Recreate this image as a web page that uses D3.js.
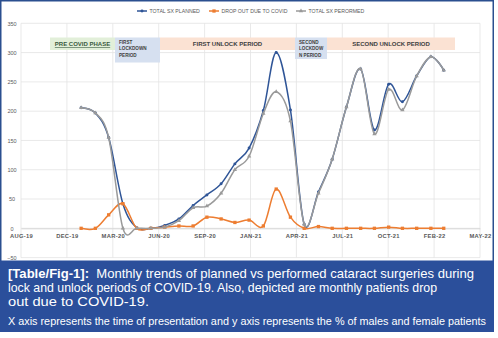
<!DOCTYPE html>
<html>
<head>
<meta charset="utf-8">
<title>Monthly trends of planned vs performed cataract surgeries</title>
<script src="https://d3js.org/d3.v7.min.js"></script>
<style>
  body { margin: 0; background: #fff; }
  svg text { font-family: "Liberation Sans", Arial, sans-serif; }
</style>
</head>
<body>
<div id="chart"></div>
<script>
// ---------------- data ----------------
const months = ["2020-01","2020-02","2020-03","2020-04","2020-05","2020-06","2020-07","2020-08","2020-09",
                "2020-10","2020-11","2020-12","2021-01","2021-02","2021-03","2021-04","2021-05","2021-06",
                "2021-07","2021-08","2021-09","2021-10","2021-11","2021-12","2022-01","2022-02","2022-03"];
const planned   = [206,197,155,42,1,0,5,16,39,57,76,110,137,201,300,202,7,62,118,207,272,168,246,216,260,293,270];
const dropout   = [0,0,23,42,0,0,2,4,4,19,16,10,14,4,67,19,0,3,0,0,0,0,2,0,0,0,0];
const performed = [206,197,155,0,0,0,2,13,35,38,60,100,123,196,233,183,7,60,118,207,272,161,237,202,260,293,270];

const seriesNames = ["TOTAL SX PLANNED", "DROP OUT DUE TO COVID", "TOTAL SX PERORMED"];
const yTicks = [-50, 0, 50, 100, 150, 200, 250, 300, 350];
// x axis: Excel date axis, 100 day major unit
const axisStart = "2019-08-23", axisEnd = "2022-05-19", tickStepDays = 100;

const phases = [
  {lines: ["PRE COVID PHASE"], x: 50, w: 65, h: 12.5, fill: "#e2efd9", big: true, underline: true},
  {lines: ["FIRST", "LOCKDOWN", "PERIOD"], x: 115, w: 45, h: 25, fill: "#d6e0f0"},
  {lines: ["FIRST UNLOCK PERIOD"], x: 160, w: 135, h: 12.5, fill: "#fbe2d3", big: true},
  {lines: ["SECOND", "LOCKDOW", "N PERIOD"], x: 295, w: 32, h: 21.5, fill: "#d6e0f0"},
  {lines: ["SECOND UNLOCK PERIOD"], x: 327, w: 128, h: 12.5, fill: "#fbe2d3", big: true}
];

const captionLines = [
  {parts: [{t: "[Table/Fig-1]:", b: true}, {t: "  Monthly trends of planned vs performed cataract surgeries during"}], w: 466},
  {parts: [{t: "lock and unlock periods of COVID-19. Also, depicted are monthly patients drop"}], w: 429},
  {parts: [{t: "out due to COVID-19."}], w: 141}
];
const captionNote = "X axis represents the time of presentation and y axis represents the % of males and female patients";

// ---------------- layout ----------------
const W = 498, H = 338;
const margin = {left: 21, right: 18, top: 23.3, bottom: 80.4};
const colors = ["#2f5597", "#ed7d31", "#9a9a9a"];

const svg = d3.select("#chart").append("svg")
    .attr("width", W).attr("height", H);

const parse = d3.utcParse("%Y-%m-%d");
const dates = months.map(m => parse(m + "-01"));
const start = parse(axisStart), end = parse(axisEnd);

const x = d3.scaleUtc().domain([start, end]).range([margin.left, W - margin.right]);
const y = d3.scaleLinear().domain([-50, 350]).range([H - margin.bottom, margin.top]);

// outer frame
svg.append("rect")
    .attr("x", 0.75).attr("y", 0.75).attr("width", 492.5).attr("height", 262)
    .attr("fill", "#fff").attr("stroke", "#2b4f8f").attr("stroke-width", 1.5);

// gridlines
const xTickVals = d3.range(0, 11).map(i => d3.utcDay.offset(start, i * tickStepDays));
svg.append("g")
  .selectAll("line.h").data(yTicks).join("line")
    .attr("x1", x.range()[0]).attr("x2", x.range()[1])
    .attr("y1", d => y(d)).attr("y2", d => y(d))
    .attr("stroke", "#e3e3e3").attr("stroke-width", 0.8);
svg.append("g")
  .selectAll("line.v").data(xTickVals).join("line")
    .attr("x1", d => x(d)).attr("x2", d => x(d))
    .attr("y1", y(-50)).attr("y2", y(350))
    .attr("stroke", "#e3e3e3").attr("stroke-width", 0.8);

// y axis labels
const yAxis = d3.axisLeft(y).tickValues(yTicks).tickSize(0).tickPadding(4);
const gy = svg.append("g").attr("transform", `translate(${margin.left},0)`).call(yAxis);
gy.select(".domain").remove();
gy.selectAll("text").attr("fill", "#595959").style("font-size", "5.5px")
    .attr("text-anchor", "middle").attr("x", -9);

// x axis at y = 0
const fmt = d3.utcFormat("%b-%y");
const xAxis = d3.axisBottom(x).tickValues(xTickVals).tickSize(0).tickPadding(6)
    .tickFormat(d => fmt(d).toUpperCase());
const gx = svg.append("g").attr("transform", `translate(0,${y(0)})`).call(xAxis);
gx.select(".domain").attr("stroke", "#d0d0d0").attr("stroke-width", 0.8);
gx.selectAll("text").attr("fill", "#595959").style("font-size", "5.8px")
    .style("letter-spacing", "0.3px").style("font-weight", "bold");

// phase boxes
phases.forEach(p => {
  const g = svg.append("g");
  g.append("rect").attr("x", p.x).attr("y", 37.5).attr("width", p.w).attr("height", p.h)
      .attr("fill", p.fill);
  if (p.big) {
    const t = g.append("text")
        .attr("x", p.x + p.w / 2).attr("y", 46.2)
        .attr("text-anchor", "middle")
        .attr("fill", "#404040").style("font-size", "6px").style("font-weight", "bold")
        .text(p.lines[0]);
    if (p.underline) t.style("text-decoration", "underline").attr("fill", "#3a5a40");
  } else {
    p.lines.forEach((l, i) => {
      g.append("text").attr("x", p.x + 4).attr("y", 44 + i * 6.4)
          .attr("fill", "#404040").style("font-size", "4.6px").style("font-weight", "bold")
          .text(l);
    });
  }
});

// lines
const line = d3.line()
    .x((d, i) => x(dates[i]))
    .y(d => y(d))
    .curve(d3.curveCatmullRom.alpha(0));

const allSeries = [planned, dropout, performed];
const shapes = [d3.symbolCircle, d3.symbolSquare, d3.symbolTriangle];
const sizes = [7, 11, 8];

allSeries.forEach((vals, si) => {
  const g = svg.append("g");
  g.append("path").datum(vals).attr("d", line)
      .attr("fill", "none").attr("stroke", colors[si]).attr("stroke-width", 1.5);
  g.selectAll("path.pt").data(vals).join("path")
      .attr("class", "pt")
      .attr("transform", (d, i) => `translate(${x(dates[i])},${y(d)})`)
      .attr("d", d3.symbol().type(shapes[si]).size(sizes[si]))
      .attr("fill", colors[si]);
});

// legend
const legendX = [137, 209, 296];
seriesNames.forEach((n, i) => {
  const g = svg.append("g").attr("transform", `translate(${legendX[i]},11)`);
  g.append("line").attr("x1", 0).attr("x2", 10).attr("stroke", colors[i]).attr("stroke-width", 1.5);
  g.append("path").attr("transform", "translate(5,0)")
      .attr("d", d3.symbol().type(shapes[i]).size(sizes[i]))
      .attr("fill", colors[i]);
  g.append("text").attr("x", 12.5).attr("y", 2).attr("fill", "#595959")
      .style("font-size", "5.2px").text(n);
});

// caption box
svg.append("rect").attr("x", 0).attr("y", 260.5).attr("width", 494).attr("height", 71.5)
    .attr("fill", "#2b4f9b");
captionLines.forEach((ln, i) => {
  const t = svg.append("text").attr("x", 8).attr("y", 277.5 + i * 14.2)
      .attr("fill", "#fff").style("font-size", "13.5px").attr("xml:space", "preserve")
      .attr("textLength", ln.w).attr("lengthAdjust", "spacingAndGlyphs");
  ln.parts.forEach(p => {
    t.append("tspan").style("font-weight", p.b ? "bold" : "normal").text(p.t);
  });
});
svg.append("text").attr("x", 8).attr("y", 324.5)
    .attr("fill", "#fff").style("font-size", "10.5px")
    .attr("textLength", 478).attr("lengthAdjust", "spacingAndGlyphs")
    .text(captionNote);
</script>
</body>
</html>
